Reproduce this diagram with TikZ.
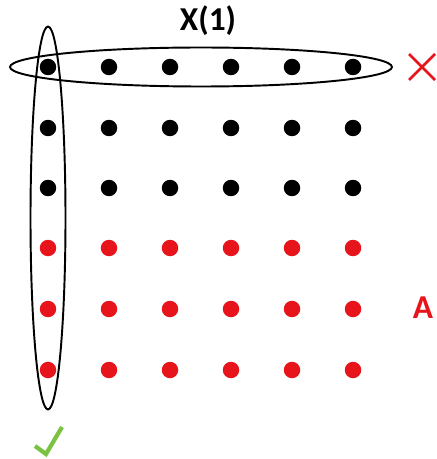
\documentclass[tikz,border=0pt]{standalone}
\usepackage{fontspec}
\setmainfont{Carlito}
\usetikzlibrary{shapes.geometric}
\definecolor{dotred}{HTML}{E8141B}
\definecolor{okgreen}{HTML}{7CC242}
\begin{document}
\begin{tikzpicture}[x=0.02cm, y=-0.02cm,
    pt/.style={circle, fill=black, inner sep=0pt, minimum size=0.33cm},
    redpt/.style={pt, fill=dotred},
    ring/.style={ellipse, draw=black, line width=1.1pt, inner sep=0pt},
    lbl/.style={font=\fontsize{19}{22}\selectfont\bfseries, inner sep=0pt}
  ]
    \useasboundingbox (0,0) rectangle (436,459);
    % grid of points
    \foreach \c/\x in {1/48, 2/109, 3/170, 4/231, 5/292, 6/353} {
      \foreach \r/\y in {1/67, 2/128, 3/188} {
        \node[pt] (p\r\c) at (\x,\y) {};
      }
      \foreach \r/\y in {4/248, 5/309, 6/370} {
        \node[redpt] (p\r\c) at (\x,\y) {};
      }
    }
    % groupings
    \node[ring, minimum width=7.64cm, minimum height=0.78cm] (rowring) at (201,67) {};
    \node[ring, minimum width=0.7cm, minimum height=7.66cm] (colring) at (48,218) {};
    \node[lbl] (xlabel) at (208,21) {X(1)};
    \node[lbl, text=dotred] (alabel) at (423,308) {A};
    % marks
    \draw[dotred, line width=1.6pt] (409,54) -- (435,80) (409,80) -- (435,54);
    \draw[okgreen, line width=2.4pt] (35,446) -- (46,454) -- (62,427);
  \end{tikzpicture}
\end{document}
